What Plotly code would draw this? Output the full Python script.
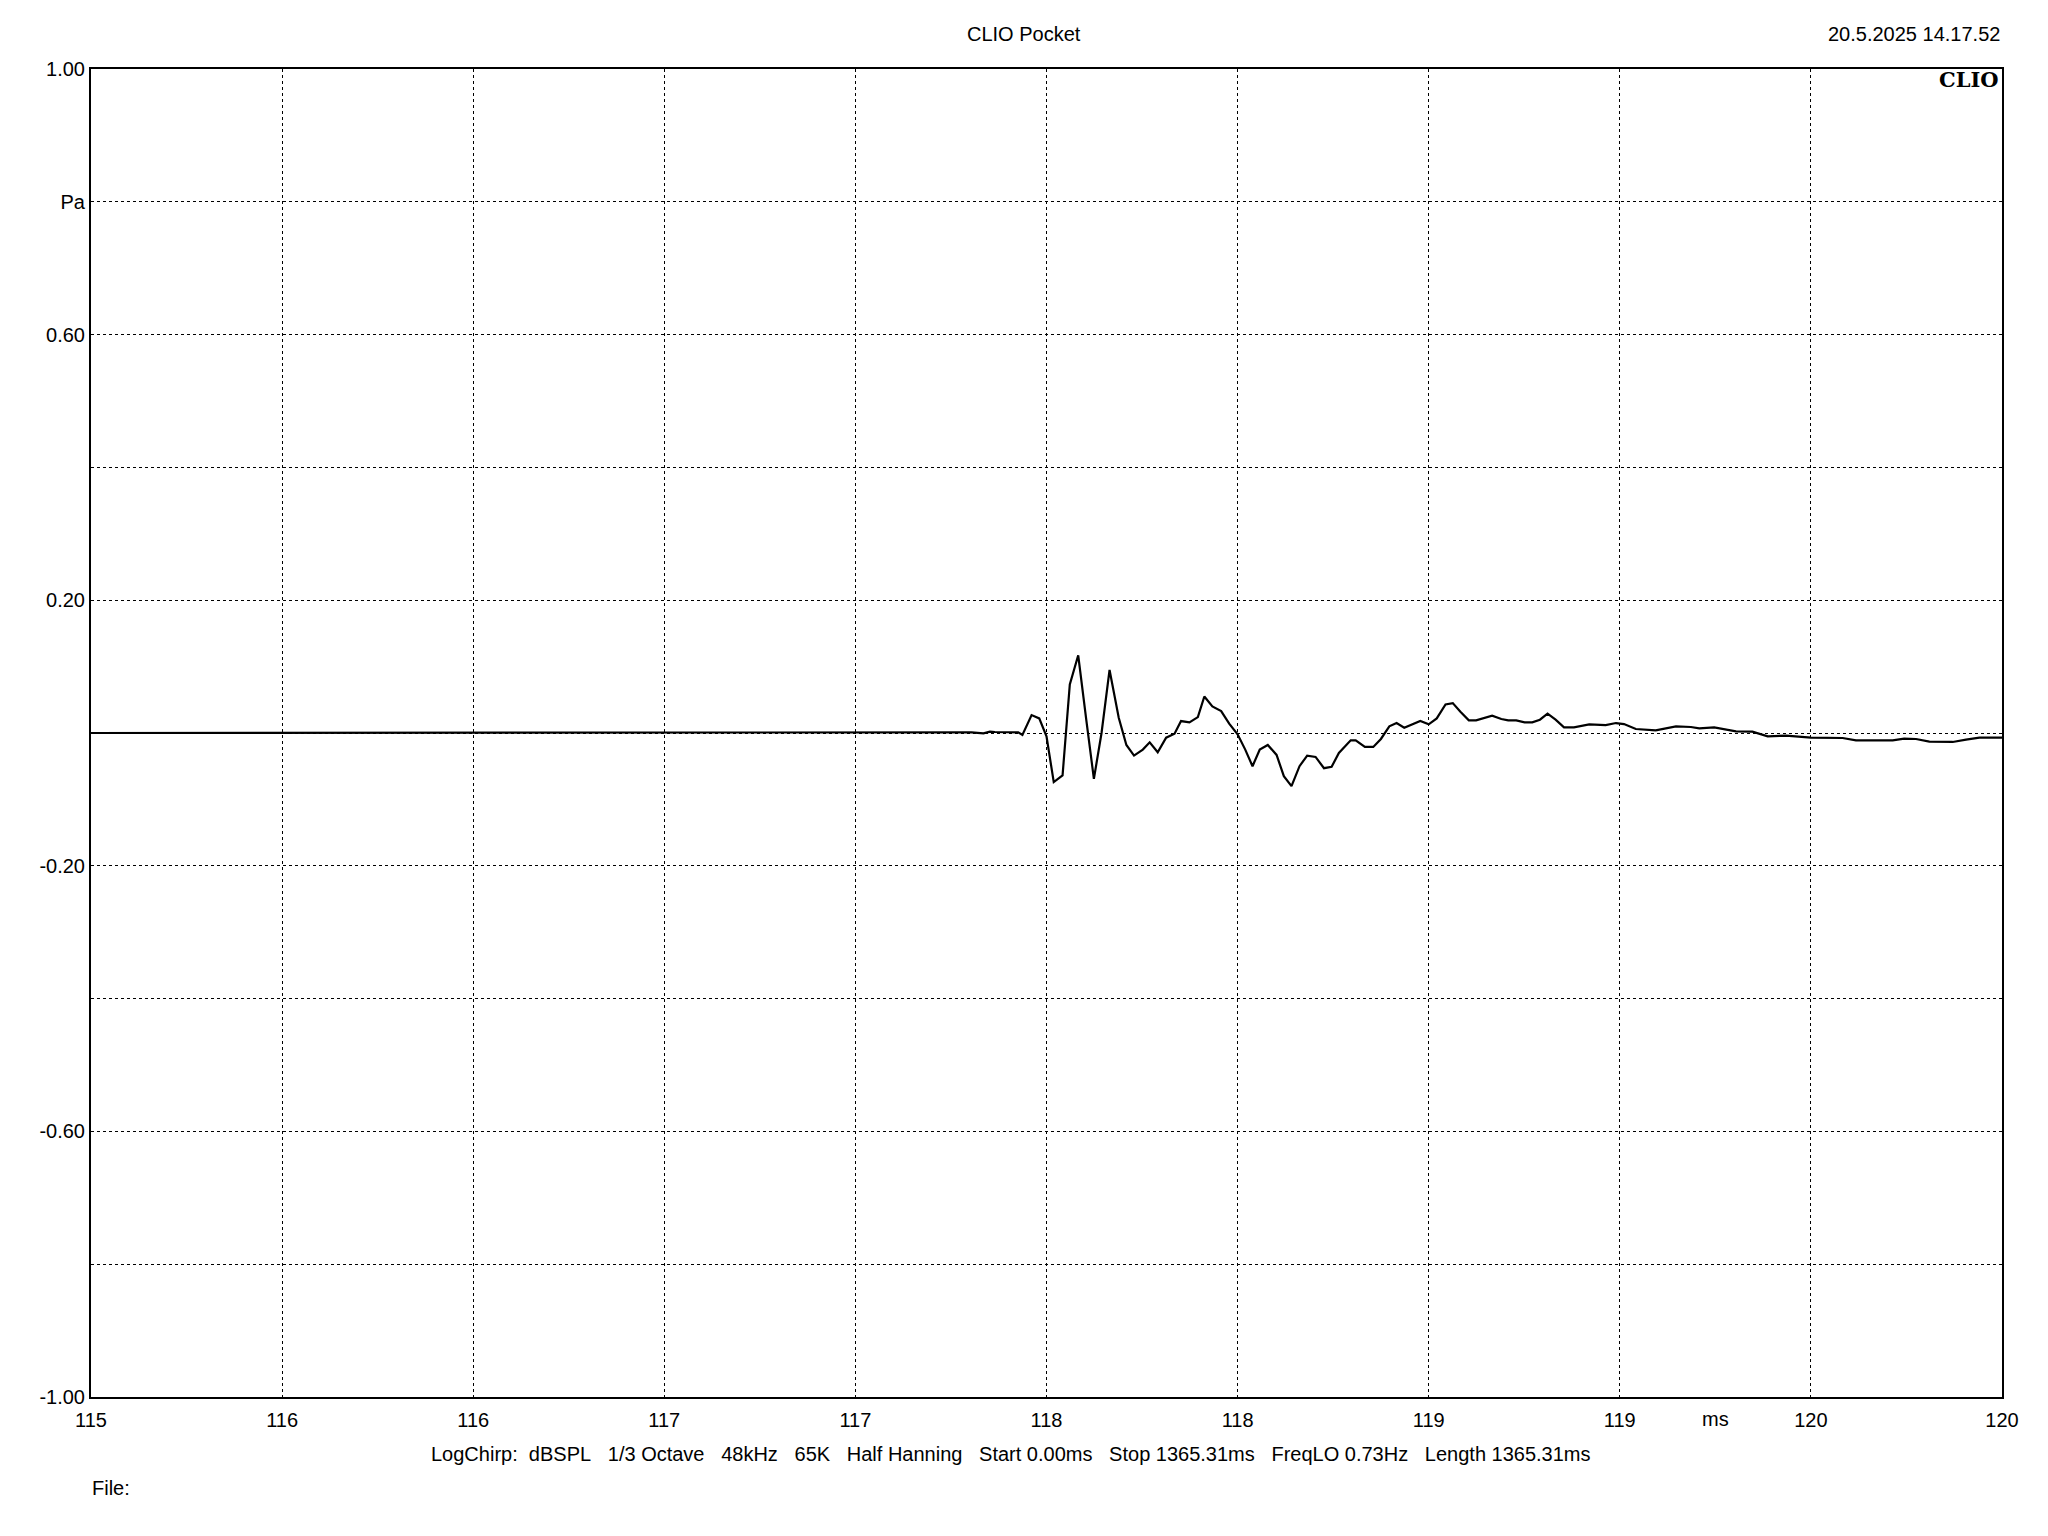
import plotly.graph_objects as go

# Impulse response (time in ms, pressure in Pa)
time_ms = [115.0, 117.222, 117.274, 117.304, 117.335, 117.352, 117.365, 117.426, 117.437,
           117.461, 117.481, 117.500, 117.519, 117.542, 117.561, 117.583, 117.604, 117.624,
           117.644, 117.665, 117.689, 117.709, 117.729, 117.752, 117.770, 117.791, 117.813,
           117.835, 117.852, 117.874, 117.896, 117.913, 117.934, 117.957, 117.978, 118.000,
           118.020, 118.039, 118.058, 118.079, 118.102, 118.121, 118.141, 118.162, 118.182,
           118.204, 118.226, 118.246, 118.265, 118.296, 118.309, 118.333, 118.355, 118.375,
           118.397, 118.416, 118.436, 118.458, 118.478, 118.500, 118.521, 118.544, 118.563,
           118.583, 118.605, 118.624, 118.646, 118.666, 118.690, 118.708, 118.729, 118.751,
           118.771, 118.791, 118.811, 118.832, 118.854, 118.880, 118.920, 118.963, 118.990,
           119.011, 119.042, 119.094, 119.147, 119.186, 119.208, 119.247, 119.304, 119.347,
           119.387, 119.435, 119.500, 119.583, 119.618, 119.714, 119.744, 119.775, 119.810,
           119.871, 119.906, 119.941, 120.0]
pressure_pa = [0.0, 0.001, 0.0, 0.001, -0.0005, 0.002, 0.0015, 0.001, -0.003,
               0.027, 0.022, -0.005, -0.074, -0.064, 0.073, 0.117, 0.020, -0.069,
               0.0, 0.095, 0.023, -0.018, -0.034, -0.025, -0.014, -0.029, -0.007,
               -0.001, 0.018, 0.016, 0.024, 0.055, 0.040, 0.033, 0.014, -0.002,
               -0.025, -0.050, -0.025, -0.018, -0.033, -0.065, -0.080, -0.050, -0.034,
               -0.036, -0.053, -0.051, -0.030, -0.011, -0.011, -0.021, -0.021, -0.009,
               0.010, 0.015, 0.008, 0.013, 0.018, 0.013, 0.022, 0.043, 0.045,
               0.032, 0.019, 0.019, 0.023, 0.026, 0.021, 0.019, 0.019, 0.016,
               0.016, 0.020, 0.029, 0.020, 0.0085, 0.0085, 0.013, 0.012, 0.015,
               0.0135, 0.006, 0.004, 0.010, 0.009, 0.007, 0.0085, 0.0025, 0.002,
               -0.005, -0.004, -0.007, -0.0075, -0.011, -0.011, -0.0085, -0.009, -0.013,
               -0.0135, -0.010, -0.007, -0.007]

x_tickvals = [115.0, 115.5, 116.0, 116.5, 117.0, 117.5, 118.0, 118.5, 119.0, 119.5, 120.0]
x_ticktext = ["115", "116", "116", "117", "117", "118", "118", "119", "119", "120", "120"]
y_tickvals = [1.0, 0.8, 0.6, 0.4, 0.2, 0.0, -0.2, -0.4, -0.6, -0.8, -1.0]
y_ticktext = ["1.00", "Pa", "0.60", "", "0.20", "", "-0.20", "", "-0.60", "", "-1.00"]

title_text = "CLIO Pocket"
date_text = "20.5.2025 14.17.52"
footer_parts = ["LogChirp:", "dBSPL", "1/3 Octave", "48kHz", "65K", "Half Hanning",
                "Start 0.00ms", "Stop 1365.31ms", "FreqLO 0.73Hz", "Length 1365.31ms"]
x_unit = "ms"
x_unit_pos = 119.25

FONT = "Liberation Sans, Arial, sans-serif"
FS = 20
NB = "\u00a0"

fig = go.Figure()
fig.add_trace(go.Scatter(x=time_ms, y=pressure_pa, mode="lines",
                         line=dict(color="black", width=2.2), showlegend=False,
                         hoverinfo="skip"))

common = dict(showgrid=True, gridcolor="black", griddash="3px,3px", gridwidth=1,
              showline=True, linecolor="black", linewidth=2, mirror=True,
              zeroline=False, ticks="",
              tickfont=dict(family=FONT, size=FS, color="black"))

fig.update_xaxes(range=[115, 120], tickmode="array", tickvals=x_tickvals,
                 ticktext=x_ticktext, ticklabelstandoff=4, **common)
fig.update_yaxes(range=[-1, 1], tickmode="array", tickvals=y_tickvals,
                 ticktext=y_ticktext, ticklabelstandoff=0, **common)

footer = (NB * 3).join(p.replace(" ", NB) for p in footer_parts)
footer = footer.replace("LogChirp:" + NB * 3, "LogChirp:" + NB * 2)

PL, PR = 91, 2002  # plot area left/right in page px
page_center = (1024 - PL) / (PR - PL)

# page body has an 8px margin; margins below place the plot area at 91..2002 x 69..1397
fig.update_layout(
    width=2048, height=1536,
    margin=dict(l=83, r=54, t=61, b=147),
    paper_bgcolor="white", plot_bgcolor="white",
    font=dict(family=FONT, size=FS, color="black"),
    annotations=[
        dict(text=title_text, xref="paper", yref="paper", x=page_center, y=1.0, yshift=35,
             xanchor="center", yanchor="middle", showarrow=False,
             font=dict(family=FONT, size=FS)),
        dict(text=date_text, xref="paper", yref="paper", x=1.0, y=1.0, yshift=35,
             xanchor="right", yanchor="middle", showarrow=False,
             font=dict(family=FONT, size=FS)),
        dict(text="<b>CLIO</b>", xref="paper", yref="paper", x=1.0, y=1.0,
             xshift=-1, yshift=-10, xanchor="right", yanchor="middle", showarrow=False,
             font=dict(family="DejaVu Serif, Liberation Serif, serif", size=21, color="black")),
        dict(text=x_unit, xref="x", yref="paper", x=x_unit_pos, y=0, yshift=-22,
             xanchor="center", yanchor="middle", showarrow=False,
             font=dict(family=FONT, size=FS)),
        dict(text=footer, xref="paper", yref="paper", x=(1011 - PL) / (PR - PL), y=0,
             yshift=-57, xanchor="center", yanchor="middle", showarrow=False,
             font=dict(family=FONT, size=FS)),
        dict(text="File:", xref="paper", yref="paper", x=0, y=0, xshift=-1,
             yshift=-91, xanchor="left", yanchor="middle", showarrow=False,
             font=dict(family=FONT, size=FS)),
    ],
)

fig.write_html("out.html")
